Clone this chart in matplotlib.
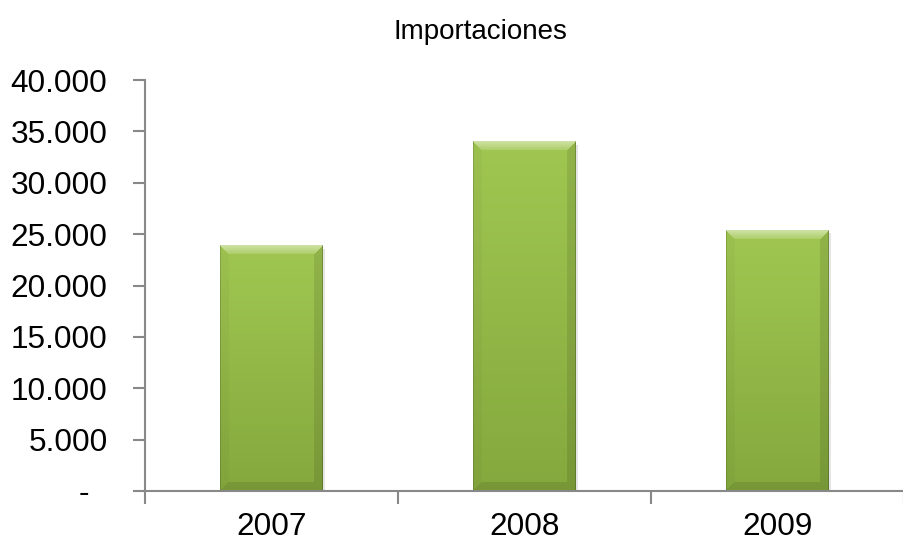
import matplotlib
matplotlib.use("Agg")
import matplotlib.pyplot as plt
import numpy as np
from matplotlib.ticker import FuncFormatter

plt.rcParams['font.family'] = ['Liberation Sans', 'DejaVu Sans']

# data
years = ["2007", "2008", "2009"]
imports = [23900, 34000, 25400]
title = "Importaciones"
y_ticks = [0, 5000, 10000, 15000, 20000, 25000, 30000, 35000, 40000]


def fmt_thousands(v, pos):
    if v == 0:
        return "-  "
    return f"{v:,.0f}".replace(",", ".")


def bevel_image(w_px, h_px, bevel=9):
    """build an rgba array that looks like the excel bevelled bar"""
    top = np.array([0.63, 0.78, 0.32])
    bottom = np.array([0.52, 0.66, 0.24])
    t = np.linspace(0, 1, h_px)[:, None, None]
    img = top * (1 - t) + bottom * t
    img = np.repeat(img, w_px, axis=1)

    yy, xx = np.mgrid[0:h_px, 0:w_px]
    d_top = yy
    d_bot = h_px - 1 - yy
    d_left = xx
    d_right = w_px - 1 - xx
    dmin = np.minimum.reduce([d_top, d_bot, d_left, d_right])
    edge = dmin < bevel
    # which side is nearest
    side = np.argmin(np.stack([d_top, d_bot, d_left, d_right]), axis=0)
    shade = np.zeros((h_px, w_px))
    # top bevel fades from light to body colour
    top_fade = 0.35 * (1 - d_top / bevel)
    shade[(side == 0) & edge] = (0.12 + top_fade)[(side == 0) & edge]
    shade[(side == 1) & edge] = -0.10
    shade[(side == 2) & edge] = -0.03
    shade[(side == 3) & edge] = -0.10
    out = img.copy()
    pos = shade > 0
    out[pos] = out[pos] + (1 - out[pos]) * shade[pos][:, None]
    neg = shade < 0
    out[neg] = out[neg] * (1 + shade[neg][:, None])
    # thin dark outline on the sides
    out[:, :1] *= 0.85
    out[:, -1:] *= 0.8
    return np.clip(out, 0, 1)


fig = plt.figure(figsize=(9.04, 5.42), dpi=100)
ax = fig.add_axes([145 / 904, 1 - 491 / 542, 759 / 904, 411 / 542])

x = np.arange(len(years))
bars = ax.bar(x, imports, width=0.405, color="#93b94a", zorder=2)

ax.set_ylim(0, 40000)
ax.set_xlim(-0.5, -0.5 + 759 / 257)

fig.canvas.draw()
for b in bars:
    bb = b.get_window_extent()
    w_px = max(int(round(bb.width)), 2)
    h_px = max(int(round(bb.height)), 2)
    img = bevel_image(w_px, h_px)
    ax.imshow(img, extent=(b.get_x(), b.get_x() + b.get_width(), 0, b.get_height()),
              aspect="auto", zorder=3, interpolation="bilinear")
    # soft shadow on right and bottom
    ax.bar(b.get_x() + b.get_width() / 2 + 0.008, b.get_height(), width=b.get_width(),
           bottom=-300, color="#000000", alpha=0.10, zorder=1.5)

ax.set_aspect("auto")
ax.set_xlim(-0.5, -0.5 + 759 / 257)
ax.set_ylim(0, 40000)

ax.set_yticks(y_ticks)
ax.yaxis.set_major_formatter(FuncFormatter(fmt_thousands))
ax.set_xticks([-0.5, 0.5, 1.5, 2.5])
ax.set_xticklabels([])
ax.set_xticks(x, minor=True)
ax.set_xticklabels(years, minor=True)
ax.tick_params(axis="x", which="minor", length=0, pad=15, labelsize=22.7)
ax.tick_params(axis="x", which="major", length=9, width=1.5, color="#888888", direction="out")
ax.tick_params(axis="y", length=9, width=1.5, color="#888888", labelsize=22.7, pad=18)

for s in ["top", "right"]:
    ax.spines[s].set_visible(False)
for s in ["left", "bottom"]:
    ax.spines[s].set_color("#888888")
    ax.spines[s].set_linewidth(1.5)
    ax.spines[s].set_zorder(4)

fig.text(480 / 904, 1 - 32 / 542, title, ha="center", va="center", fontsize=20)

fig.savefig("out.png", dpi=100)
